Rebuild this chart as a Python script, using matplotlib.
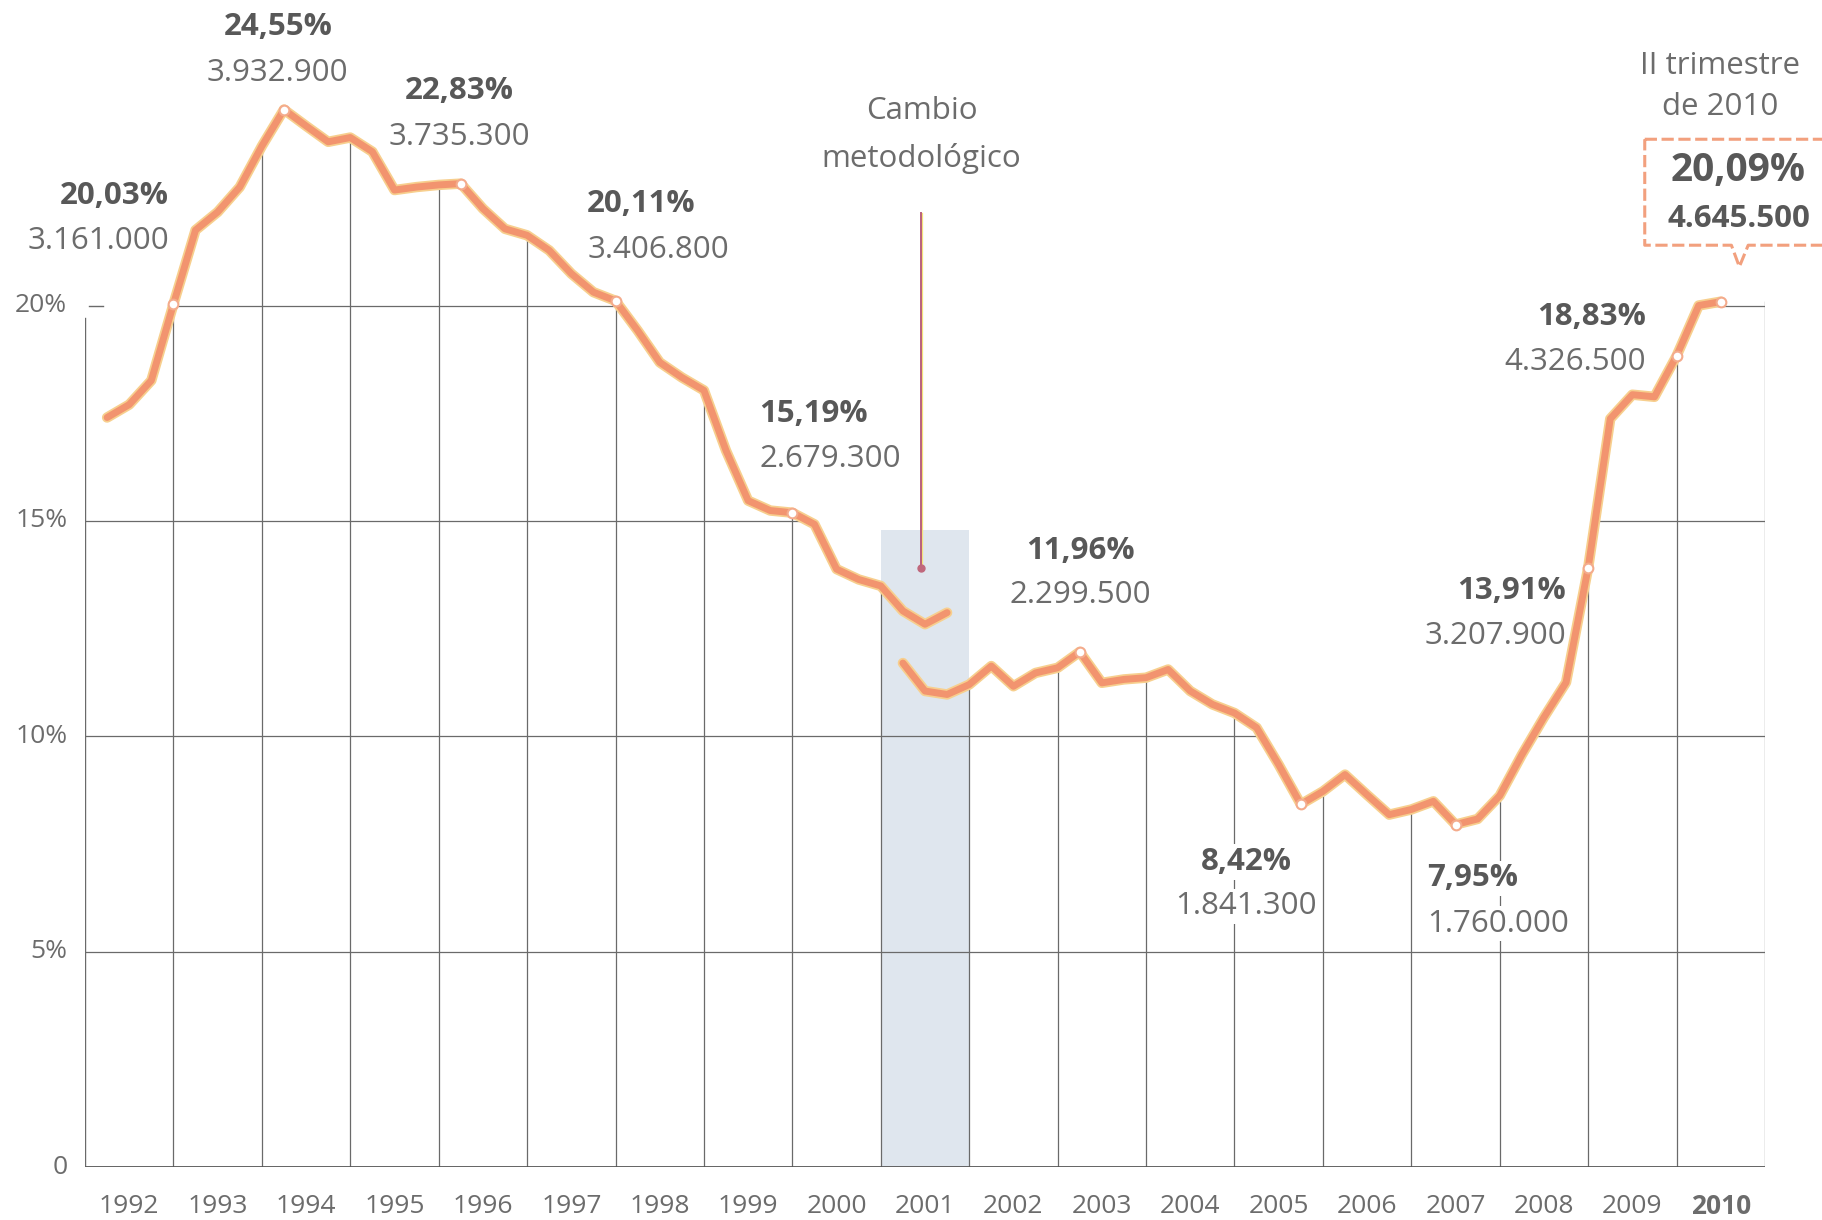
import matplotlib.pyplot as plt
from matplotlib.patches import Polygon, Rectangle

# =======================
# DATOS (tasa de paro EPA, %)
# =======================

years = list(range(1992, 2011))

# serie antigua: 1992 T1 .. 2001 T3
old_rate = [17.4, 17.7, 18.26, 20.03,
            21.75, 22.17, 22.75, 23.7,
            24.55, 24.17, 23.8, 23.9,
            23.57, 22.68, 22.75, 22.8,
            22.83, 22.25, 21.78, 21.63,
            21.28, 20.74, 20.31, 20.11,
            19.42, 18.68, 18.33, 18.03,
            16.63, 15.47, 15.24, 15.19,
            14.92, 13.88, 13.64, 13.49,
            12.91, 12.6, 12.87]

# serie nueva: 2001 T1 .. 2010 T2
new_rate = [11.7, 11.05, 10.97, 11.2,
            11.63, 11.16, 11.47, 11.59,
            11.96, 11.24, 11.32, 11.36,
            11.55, 11.05, 10.74, 10.54,
            10.2, 9.34, 8.42, 8.72,
            9.11, 8.64, 8.18, 8.3,
            8.49, 7.95, 8.08, 8.62,
            9.57, 10.44, 11.25, 13.91,
            17.37, 17.93, 17.88, 18.83,
            20.0, 20.09]

# puntos destacados: (serie, anio, trimestre, tasa, parados)
highlights = [
    ('old', 1992, 4, '20,03%', '3.161.000'),
    ('old', 1994, 1, '24,55%', '3.932.900'),
    ('old', 1996, 1, '22,83%', '3.735.300'),
    ('old', 1997, 4, '20,11%', '3.406.800'),
    ('old', 1999, 4, '15,19%', '2.679.300'),
    ('new', 2003, 1, '11,96%', '2.299.500'),
    ('new', 2005, 3, '8,42%', '1.841.300'),
    ('new', 2007, 2, '7,95%', '1.760.000'),
    ('new', 2008, 4, '13,91%', '3.207.900'),
    ('new', 2009, 4, '18,83%', '4.326.500'),
]
last_pct, last_count = '20,09%', '4.645.500'

yticks = [0, 5, 10, 15, 20]
ytick_labels = ['0', '5%', '10%', '15%', '20%']

# posiciones de los textos (x en anios desde 1992, y en %), alineacion
label_pos = [
    (0.95, 22.54, 21.49, 'right'),
    (2.18, 26.46, 25.40, 'center'),
    (4.23, 24.97, 23.92, 'center'),
    (5.68, 22.35, 21.30, 'left'),
    (7.63, 17.49, 16.43, 'left'),
    (11.26, 14.30, 13.27, 'center'),
    (13.13, 7.08, 6.05, 'center'),
    (15.18, 6.70, 5.65, 'left'),
    (16.75, 13.38, 12.32, 'right'),
    (17.65, 19.73, 18.68, 'right'),
]

# =======================
# ESTILO
# =======================

plt.rcParams['font.family'] = ['Open Sans', 'DejaVu Sans']
LINE = '#f2946f'
HALO = '#f7cf8e'
GRID = '#6a6a6a'
TXT_B = '#585858'
TXT = '#6c6c6c'
FS = 22.5


def qx(year, q):
    return (year - 1992) + q / 4


old_x = [qx(1992 + i // 4, i % 4 + 1) for i in range(len(old_rate))]
new_x = [qx(2001 + i // 4, i % 4 + 1) for i in range(len(new_rate))]

fig = plt.figure(figsize=(18.22, 12.2), dpi=100)
ax = fig.add_axes([85 / 1822, 53 / 1220, 1680 / 1822, 1163 / 1220])
ax.set_xlim(0, 19)
ax.set_ylim(0, 27)
ax.axis('off')

# zona bajo la curva para recortar la rejilla
cut = old_x.index(9.0)
verts = [(0, 0), (0, old_rate[0])]
verts += list(zip(old_x[:cut + 1], old_rate[:cut + 1]))
verts += list(zip(new_x, new_rate))
verts += [(19, new_rate[-1]), (19, 0)]
clip = Polygon(verts, closed=True, transform=ax.transData)

for y in yticks[1:]:
    ln, = ax.plot([0, 19], [y, y], color=GRID, lw=0.9, zorder=1)
    ln.set_clip_path(clip)
for i in range(1, 20):
    ln, = ax.plot([i, i], [0, 27], color=GRID, lw=0.9, zorder=1)
    ln.set_clip_path(clip)

# eje izquierdo, base y marca del 20%
ax.plot([0, 0], [0, 19.7], color=GRID, lw=1.0, zorder=1)
ax.plot([0, 19], [0, 0], color='#555555', lw=2.0, zorder=2, solid_capstyle='butt')
ax.plot([0.04, 0.2], [20, 20], color=GRID, lw=1.0, clip_on=False)

# banda del cambio metodologico
ax.add_patch(Rectangle((9, 0), 1, 14.8, facecolor='#dfe6ee', edgecolor='none', zorder=0.5))

# flecha
ax.plot([9.45, 9.45], [22.15, 13.95], color='#b9607a', lw=1.4, zorder=3)
ax.plot([9.47, 9.47], [22.15, 13.95], color='#f3e27a', lw=0.9, zorder=2.9)
ax.plot([9.45], [13.9], 'o', color='#c0687c', ms=5, zorder=3)
ax.text(9.46, 24.51, 'Cambio', ha='center', va='center', fontsize=FS, color=TXT)
ax.text(9.46, 23.42, 'metodol\u00f3gico', ha='center', va='center', fontsize=FS, color=TXT)

# curvas
for xs, ys in [(old_x, old_rate), (new_x, new_rate)]:
    ax.plot(xs, ys, color=HALO, lw=7.5, zorder=4, solid_capstyle='round', solid_joinstyle='round')
    ax.plot(xs, ys, color=LINE, lw=5.0, zorder=5, solid_capstyle='round', solid_joinstyle='round')

# marcadores y etiquetas
for (serie, yr, q, pct, cnt), (tx, ty1, ty2, ha) in zip(highlights, label_pos):
    xs, ys = (old_x, old_rate) if serie == 'old' else (new_x, new_rate)
    k = xs.index(qx(yr, q))
    ax.plot(xs[k], ys[k], 'o', ms=7, mfc='white', mec='#f4ab8c', mew=1.5, zorder=6)
    bb = dict(facecolor='white', edgecolor='none', pad=2)
    ax.text(tx, ty1, pct, ha=ha, va='center', fontsize=FS, fontweight='bold', color=TXT_B, bbox=bb, zorder=3)
    ax.text(tx, ty2, cnt, ha=ha, va='center', fontsize=FS, color=TXT, bbox=bb, zorder=3)

ax.plot(new_x[-1], new_rate[-1], 'o', ms=7, mfc='white', mec='#f4ab8c', mew=1.5, zorder=6)

# recuadro del ultimo dato
box_x = [17.64, 19.70, 19.70, 18.81, 18.71, 18.62, 17.64, 17.64]
box_y = [23.86, 23.86, 21.40, 21.40, 20.90, 21.40, 21.40, 23.86]
ax.plot(box_x, box_y, color='#f2a07e', lw=2.2, ls=(0, (4, 1.5)), clip_on=False, zorder=6)
ax.text(18.49, 25.57, 'II trimestre', ha='center', va='center', fontsize=FS, color=TXT, clip_on=False)
ax.text(18.49, 24.62, 'de 2010', ha='center', va='center', fontsize=FS, color=TXT, clip_on=False)
ax.text(18.70, 23.14, last_pct, ha='center', va='center', fontsize=28, fontweight='bold',
        color=TXT_B, clip_on=False)
ax.text(18.70, 22.00, last_count, ha='center', va='center', fontsize=FS, fontweight='bold',
        color=TXT_B, clip_on=False)

# etiquetas de ejes
for v, lab in zip(yticks, ytick_labels):
    ax.text(-0.2, v, lab, ha='right', va='center', fontsize=19, color=TXT, clip_on=False)
for i, yr in enumerate(years):
    ax.text(i + 0.5, -0.92, str(yr), ha='center', va='center', fontsize=19, color=TXT,
            fontweight='bold' if yr == 2010 else 'normal', clip_on=False)

fig.savefig('out.png', dpi=100, facecolor='white')
